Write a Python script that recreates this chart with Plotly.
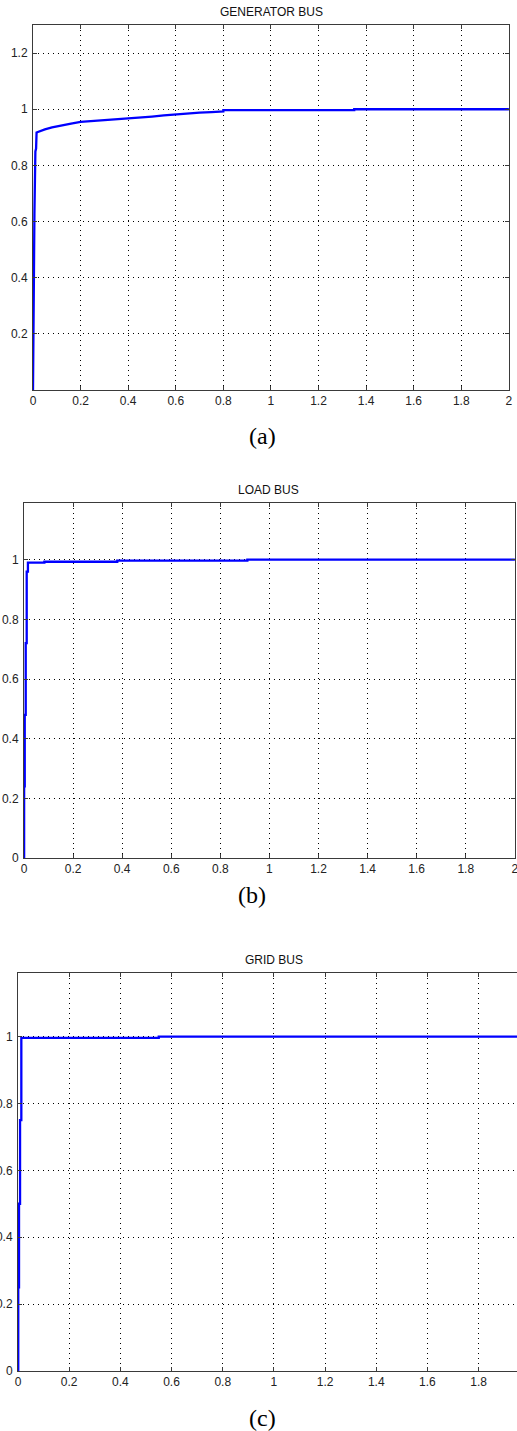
import plotly.graph_objects as go

W, H = 517, 1431

# ---- data ----
gen_t = [0, 0.001, 0.003, 0.006, 0.010, 0.013, 0.015, 0.03, 0.05, 0.08, 0.12, 0.16,
         0.2, 0.25, 0.3, 0.35, 0.4, 0.45, 0.5, 0.55, 0.6, 0.65, 0.7, 0.75, 0.8, 0.8,
         1.35, 1.35, 2.0]
gen_v = [0, 0.21, 0.42, 0.63, 0.85, 0.86, 0.917, 0.922, 0.928, 0.935, 0.943, 0.949,
         0.955, 0.958, 0.961, 0.963, 0.966, 0.970, 0.974, 0.978, 0.982, 0.985, 0.988,
         0.990, 0.992, 0.997, 0.997, 1.0, 1.0]

load_t = [0, 0.0005, 0.003, 0.007, 0.011, 0.016, 0.083, 0.38, 0.91, 2.0]
load_v = [0, 0.24, 0.48, 0.72, 0.96, 0.99, 0.993, 0.997, 1.0, 1.0]

grid_t = [0, 0.001, 0.004, 0.008, 0.013, 0.55, 2.0]
grid_v = [0, 0.25, 0.5, 0.75, 0.996, 1.0, 1.0]

titles = ["GENERATOR BUS", "LOAD BUS", "GRID BUS"]
captions = ["(a)", "(b)", "(c)"]

x_ticks = [0, 0.2, 0.4, 0.6, 0.8, 1, 1.2, 1.4, 1.6, 1.8, 2]
x_tick_text = ["0", "0.2", "0.4", "0.6", "0.8", "1", "1.2", "1.4", "1.6", "1.8", "2"]
y_ticks_a = [0.2, 0.4, 0.6, 0.8, 1, 1.2]
y_ticks_a_text = ["0.2", "0.4", "0.6", "0.8", "1", "1.2"]
y_ticks_bc = [0, 0.2, 0.4, 0.6, 0.8, 1]
y_ticks_bc_text = ["0", "0.2", "0.4", "0.6", "0.8", "1"]

# ---- layout geometry (pixels) ----
def px_x(a, b):
    return [a / W, min(b / W, 1.0)]

def px_y(top, bottom):
    return [1 - bottom / H, 1 - top / H]

panels = [
    dict(x=px_x(33, 509), y=px_y(25, 390), xr=[0, 2.0005], yr=[0, 1.3],
         yt=y_ticks_a, ytt=y_ticks_a_text, title_x=271, title_y=12, cap_x=262, cap_y=436,
         t=gen_t, v=gen_v, shape="linear", mirror_y="ticks"),
    dict(x=px_x(24, 515), y=px_y(503, 858), xr=[0, 2.0005], yr=[0, 1.19],
         yt=y_ticks_bc, ytt=y_ticks_bc_text, title_x=268, title_y=490, cap_x=252, cap_y=895,
         t=load_t, v=load_v, shape="hv", mirror_y="ticks"),
    dict(x=px_x(18, 517), y=px_y(973, 1371), xr=[0, 1.95], yr=[0, 1.19],
         yt=y_ticks_bc, ytt=y_ticks_bc_text, title_x=274, title_y=960, cap_x=262, cap_y=1418,
         t=grid_t, v=grid_v, shape="hv", mirror_y=False),
]

fig = go.Figure()
tick_font = dict(family="Liberation Sans, Arial, sans-serif", size=12, color="#222222")
annotations = []

for i, p in enumerate(panels):
    n = "" if i == 0 else str(i + 1)
    fig.add_trace(go.Scatter(
        x=p["t"], y=p["v"], mode="lines",
        line=dict(color="#0000FF", width=2.3, shape=p["shape"]),
        xaxis="x" + n, yaxis="y" + n, showlegend=False, hoverinfo="skip"))
    common = dict(showline=True, linecolor="#3a3a3a", linewidth=1, automargin=False,
                  showgrid=True, gridcolor="#000000", gridwidth=1, griddash="1px,4px",
                  zeroline=False, ticks="inside", ticklen=4, tickcolor="#3a3a3a",
                  tickfont=tick_font, ticklabeloverflow="allow")
    fig.update_layout(**{
        "xaxis" + n: dict(domain=p["x"], range=p["xr"], anchor="y" + n,
                          tickvals=x_ticks, ticktext=x_tick_text, mirror="ticks",
                          **common),
        "yaxis" + n: dict(domain=p["y"], range=p["yr"], anchor="x" + n,
                          tickvals=p["yt"], ticktext=p["ytt"], mirror=p["mirror_y"],
                          ticklabelstandoff=2, **common),
    })
    annotations.append(dict(
        text=titles[i], x=p["title_x"] / W, y=1 - p["title_y"] / H,
        xref="paper", yref="paper",
        showarrow=False, xanchor="center", yanchor="middle",
        font=dict(family="Liberation Sans, Arial, sans-serif", size=12, color="#111111")))
    annotations.append(dict(
        text=captions[i], x=p["cap_x"] / W, y=1 - p["cap_y"] / H,
        xref="paper", yref="paper", showarrow=False, xanchor="center", yanchor="middle",
        font=dict(family="Liberation Serif, Times New Roman, serif", size=24,
                  color="#000000")))

fig.update_layout(
    width=W, height=H, margin=dict(l=0, r=0, t=0, b=0, autoexpand=False),
    paper_bgcolor="white", plot_bgcolor="white", showlegend=False,
    annotations=annotations)

fig.write_html(
    "out.html", config={"displayModeBar": False},
    post_script="document.body.style.margin='0px';document.body.style.overflow='hidden';")
